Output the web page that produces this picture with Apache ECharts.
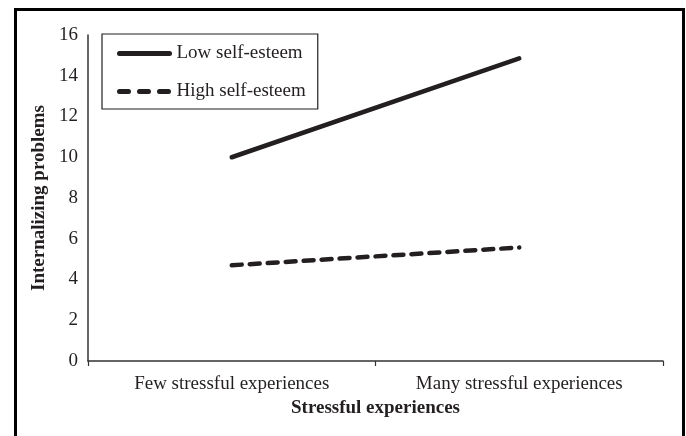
<!DOCTYPE html>
<html>
<head>
<meta charset="utf-8">
<script src="https://cdn.jsdelivr.net/npm/echarts@6/dist/echarts.min.js"></script>
<style>
html,body{margin:0;padding:0;background:#fff;}
#c{width:686px;height:436px;}
</style>
</head>
<body>
<div id="c"></div>
<script>
const categories = ['Few stressful experiences', 'Many stressful experiences'];
const lowSelfEsteem = [10.0, 14.85];
const highSelfEsteem = [4.7, 5.57];
const seriesNames = ['Low self-esteem', 'High self-esteem'];
const xTitle = 'Stressful experiences';
const yTitle = 'Internalizing problems';

const FONT = '"Liberation Serif", "Times New Roman", serif';
const TXT = '#231f20';
const chart = echarts.init(document.getElementById('c'), null, {renderer: 'canvas'});
chart.setOption({
  animation: false,
  backgroundColor: '#fff',
  textStyle: {fontFamily: FONT, color: TXT},
  graphic: [{
    type: 'rect', left: 13, top: 7, z: 100,
    shape: {width: 668, height: 440},
    style: {fill: 'none', stroke: '#000', lineWidth: 3}
  }],
  grid: {left: 88, right: 23, top: 35, bottom: 75, containLabel: false},
  legend: {
    orient: 'vertical', left: 102, top: 34,
    padding: [10, 12, 8, 15],
    itemWidth: 50, itemHeight: 14, itemGap: 19,
    borderColor: '#231f20', borderWidth: 1.2,
    itemStyle: {opacity: 0},
    lineStyle: {width: 5, cap: 'round'},
    textStyle: {fontFamily: FONT, fontSize: 19, color: TXT, padding: [0, 0, 0, 2]},
    data: [
      {name: seriesNames[0], lineStyle: {width: 5, cap: 'round', type: 'solid'}},
      {name: seriesNames[1], lineStyle: {width: 5, cap: 'round', type: [9, 11]}}
    ]
  },
  xAxis: {
    type: 'category', data: categories, boundaryGap: true,
    axisLine: {lineStyle: {color: '#333', width: 1.5}},
    axisTick: {show: true, length: 5, lineStyle: {color: '#333', width: 1.2}},
    axisLabel: {fontFamily: FONT, fontSize: 19, color: TXT, margin: 14},
    name: xTitle, nameLocation: 'middle', nameGap: 36,
    nameTextStyle: {fontFamily: FONT, fontSize: 19, fontWeight: 'bold', color: TXT}
  },
  yAxis: {
    type: 'value', min: 0, max: 16, interval: 2,
    axisLine: {show: true, lineStyle: {color: '#333', width: 1.5}},
    axisTick: {show: false},
    splitLine: {show: false},
    axisLabel: {fontFamily: FONT, fontSize: 19, color: TXT, margin: 10},
    name: yTitle, nameLocation: 'middle', nameGap: 38, nameRotate: 90,
    nameTextStyle: {fontFamily: FONT, fontSize: 19, fontWeight: 'bold', color: TXT}
  },
  series: [
    {
      name: seriesNames[0], type: 'line', data: lowSelfEsteem,
      symbol: 'none', color: '#231f20',
      lineStyle: {color: '#231f20', width: 4.5, cap: 'round', type: 'solid'}
    },
    {
      name: seriesNames[1], type: 'line', data: highSelfEsteem,
      symbol: 'none', color: '#231f20',
      lineStyle: {color: '#231f20', width: 4.5, cap: 'round', type: [10, 8]}
    }
  ]
});
</script>
</body>
</html>
